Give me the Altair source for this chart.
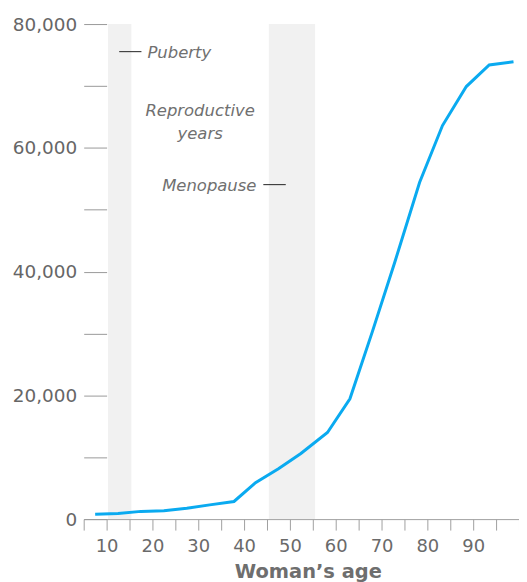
import altair as alt
import pandas as pd

# Line series: woman's age (years) vs. value
ages = [7.5, 12.5, 17.5, 22.5, 27.5, 32.5, 37.8, 42.5, 47.5, 52.4,
        58.2, 63.1, 68.0, 72.8, 78.3, 83.3, 88.5, 93.5, 98.8]
counts = [800, 900, 1250, 1350, 1750, 2300, 2850, 5900, 8150, 10600,
          14000, 19450, 30300, 41300, 54400, 63600, 69900, 73400, 73900]

# Shaded periods (puberty, menopause)
band_start = [10.3, 45.4]
band_end = [15.4, 55.5]
band_low = [0, 0]
band_high = [80000, 80000]

# Annotations
note_text = ["Puberty", "Reproductive", "years", "Menopause"]
note_kind = ["left", "center", "center", "right"]
note_x = [18.9, 30.4, 30.4, 42.7]
note_y = [75300, 66000, 62300, 53900]

leader_x1 = [12.75, 44.2]
leader_x2 = [17.6, 49.1]
leader_y = [75540, 54050]

x_ticks = list(range(5, 101, 5))
y_ticks = list(range(0, 80001, 10000))

FONT = "DejaVu Sans"

line_df = pd.DataFrame({"age": ages, "count": counts})
band_df = pd.DataFrame({"start": band_start, "end": band_end,
                        "lo": band_low, "hi": band_high})
note_df = pd.DataFrame({"text": note_text, "kind": note_kind,
                        "x": note_x, "y": note_y})
leader_df = pd.DataFrame({"x1": leader_x1, "x2": leader_x2, "y": leader_y})

xscale = alt.Scale(domain=[5, 100], nice=False, zero=False)
yscale = alt.Scale(domain=[0, 80000], nice=False)

xaxis = alt.Axis(
    values=x_ticks,
    labelExpr="datum.value % 10 == 0 && datum.value < 100 ? format(datum.value, 'd') : ''",
    tickSize=11, tickColor="#a0a0a0", domainColor="#a0a0a0",
    labelFont=FONT, labelFontSize=18, labelColor="#6a6a6a", labelPadding=8,
    labelOverlap=False, labelFlush=False, grid=False,
    title="Woman\u2019s age", titleFont=FONT, titleFontSize=19.5,
    titleFontWeight="bold", titleColor="#6e6e6e", titlePadding=7, titleX=225,
)
yaxis = alt.Axis(
    values=y_ticks,
    labelExpr="datum.value % 20000 == 0 ? format(datum.value, ',') : ''",
    tickSize=23, offset=-23, domain=False, tickColor="#9a9a9a",
    labelFont=FONT, labelFontSize=18.5, labelColor="#666666", labelPadding=7,
    labelOverlap=False, grid=False, title=None,
)

bands = alt.Chart(band_df).mark_rect(color="#f1f1f1").encode(
    x=alt.X("start:Q", scale=xscale, axis=xaxis),
    x2="end:Q",
    y=alt.Y("lo:Q", scale=yscale, axis=yaxis),
    y2="hi:Q",
)

line = alt.Chart(line_df).mark_line(color="#0aaaf0", strokeWidth=3).encode(
    x=alt.X("age:Q", scale=xscale, axis=xaxis),
    y=alt.Y("count:Q", scale=yscale, axis=yaxis),
)

leaders = alt.Chart(leader_df).mark_rule(color="#222222", strokeWidth=1).encode(
    x=alt.X("x1:Q", scale=xscale, axis=xaxis),
    x2="x2:Q",
    y=alt.Y("y:Q", scale=yscale, axis=yaxis),
)


def notes(kind):
    return alt.Chart(note_df).transform_filter(
        alt.datum.kind == kind
    ).mark_text(
        align=kind, baseline="middle", font=FONT, fontSize=16.5,
        fontStyle="italic", color="#707070",
    ).encode(
        x=alt.X("x:Q", scale=xscale, axis=xaxis),
        y=alt.Y("y:Q", scale=yscale, axis=yaxis),
        text="text:N",
    )


chart = alt.layer(
    bands, line, leaders, notes("left"), notes("center"), notes("right")
).properties(
    width=437, height=497,
    autosize=alt.AutoSizeParams(type="none"),
    padding={"left": 76, "top": 15, "right": 0, "bottom": 62},
).configure_view(stroke=None)

chart.save("out.html", embed_options={"renderer": "svg", "actions": False})
